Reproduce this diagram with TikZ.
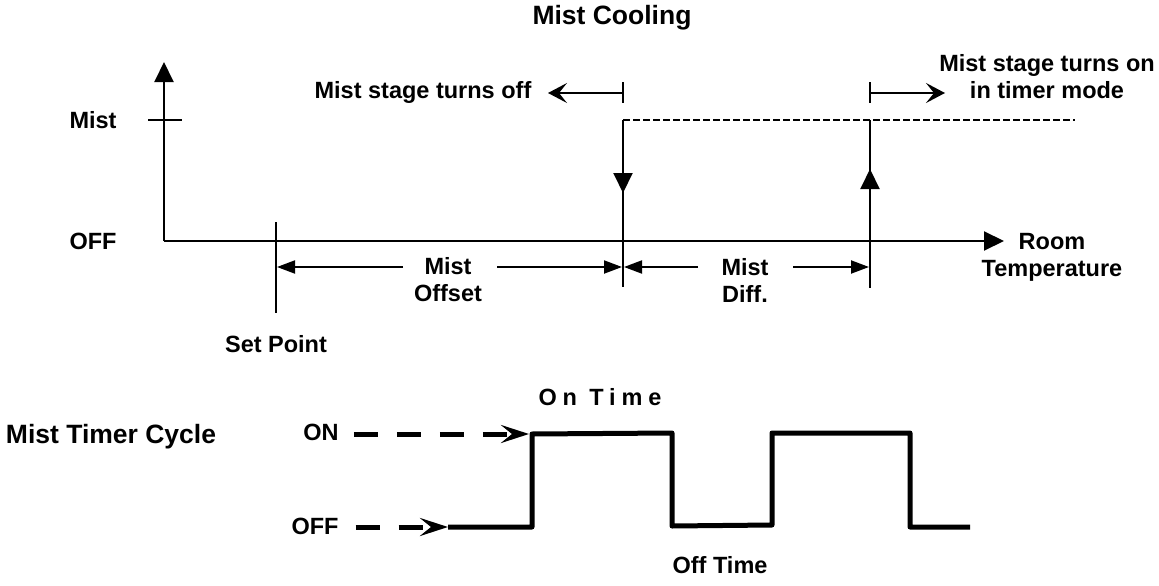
\documentclass[tikz,border=0pt]{standalone}
\usepackage{fontspec}
\setmainfont{Liberation Sans}
\usetikzlibrary{arrows.meta}
\begin{document}
\begin{tikzpicture}[x=1pt, y=-1pt, >={Triangle[length=20pt,width=19pt]},
  every node/.style={font=\fontsize{23.5}{27}\selectfont\bfseries, align=center, inner sep=0pt},
  big/.style={font=\fontsize{26.5}{30}\selectfont\bfseries},
  axis/.style={line width=2pt},
  dim/.style={line width=2pt, -{Triangle[length=18pt,width=13pt]}},
  turn/.style={line width=2pt, -{Stealth[length=19pt,width=20pt,inset=8pt]}},
  pulse/.style={line width=5pt, line join=round},
  lead/.style={line width=5pt, dash pattern=on 24pt off 19pt, -{Stealth[length=28pt,width=18pt,inset=11pt]}}]
  \useasboundingbox (0,0) rectangle (1159,586);
  % mist cooling chart
  \coordinate (O) at (164,241);
  \coordinate (ytip) at (164,62);
  \coordinate (xtip) at (1004,241);
  \draw[axis,->] (O) -- (ytip);
  \draw[axis,->] (O) -- (xtip);
  \draw[axis] (148,120) -- (182,120);
  \draw[axis] (276,222) -- (276,313);
  \foreach \x in {623,870} { \draw[axis] (\x,82) -- (\x,103); }
  \draw[turn] (623,93) -- (548,93);
  \draw[turn] (870,93) -- (945,93);
  \draw[axis, dash pattern=on 6.5pt off 3.5pt] (623,120) -- (1075,120);
  \draw[axis] (623,120) -- (623,287);
  \draw[axis,->] (623,160) -- (623,193);
  \draw[axis] (870,120) -- (870,288);
  \draw[axis,->] (870,200) -- (870,169);
  \node[big] (title) at (612,18) {Mist Cooling};
  \node (offtxt) at (423,92) {Mist stage turns off};
  \node (ontxt) at (1047,77) {Mist stage turns on\\in timer mode};
  \node (mistlbl) at (93,120) {Mist};
  \node (offlbl) at (93,241) {OFF};
  \node (room) at (1052,257) {Room\\Temperature};
  \node (offset) at (448,280) {Mist\\Offset};
  \node (diff) at (745,280) {Mist\\Diff.};
  \node (setpt) at (276,344) {Set Point};
  \draw[dim] (403,267) -- (277,267);
  \draw[dim] (497,267) -- (622,267);
  \draw[dim] (698,267) -- (624,267);
  \draw[dim] (793,267) -- (869,267);
  % timer cycle
  \node[big] (cycle) at (111,437) {Mist Timer Cycle};
  \node (onlvl) at (321,432) {ON};
  \node (offlvl) at (315,526) {OFF};
  \node (ontime) at (600,397) {\addfontfeature{LetterSpace=25}On Time};
  \node (offtime) at (720,565) {Off Time};
  \coordinate (start) at (448,527);
  \coordinate (rise) at (532,434);
  \draw[pulse] (start) -- (532,527) -- (rise) -- (672,433) -- (672,526) -- (772,525)
    -- (772,433) -- (910,433) -- (910,527) -- (970,527);
  \draw[lead] ([xshift=15pt]onlvl.east |- rise) -- ([xshift=-3pt]rise);
  \draw[lead] ([xshift=17pt]offlvl.east |- start) -- (start);
\end{tikzpicture}
\end{document}
